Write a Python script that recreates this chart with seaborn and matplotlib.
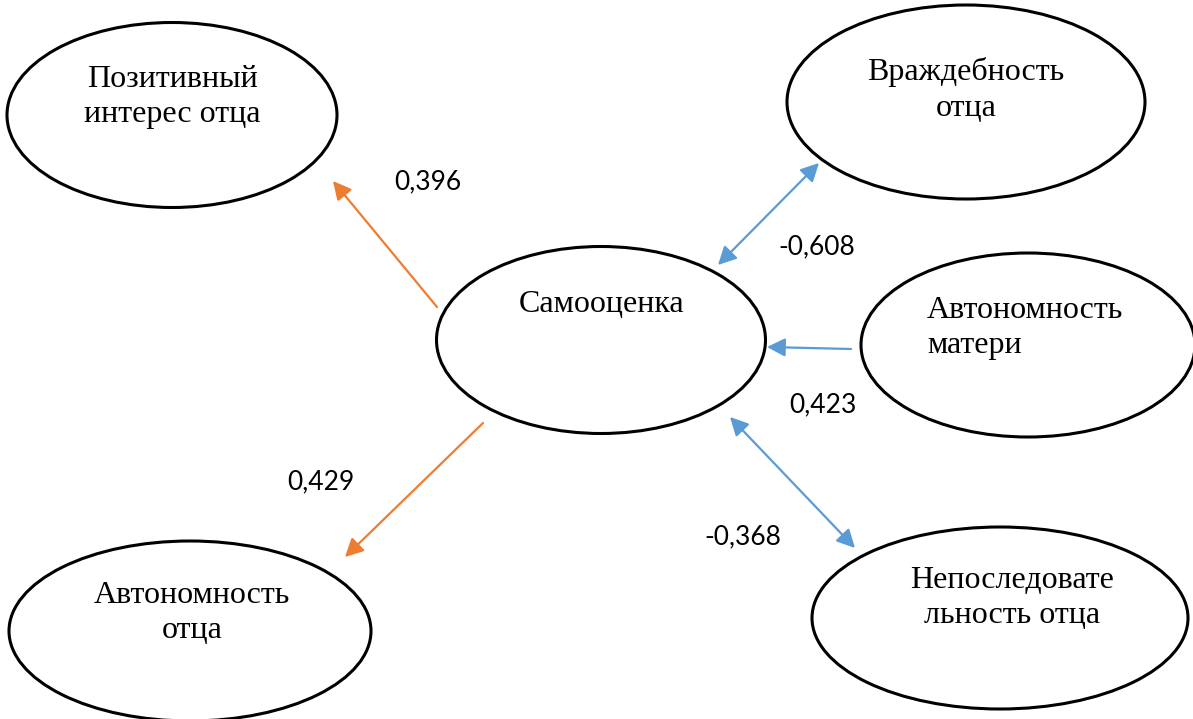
import matplotlib
matplotlib.use("Agg")
import matplotlib.pyplot as plt
from matplotlib.patches import Ellipse
import seaborn as sns

# nodes of the diagram
nodes = ["Позитивный\nинтерес отца", "Враждебность\nотца", "Самооценка",
         "Автономность\nматери", "Автономность\nотца", "Непоследовате\nльность отца"]
# edges: (from, to, coefficient, two-sided?)
edge_src = [2, 2, 3, 2, 2]
edge_dst = [0, 4, 2, 1, 5]
edge_vals = ["0,396", "0,429", "0,423", "-0,608", "-0,368"]
edge_both = [False, False, False, True, True]

sns.set_theme(style="white")
orange, blue = "#ED7D31", "#5B9BD5"

# layout in pixels (x, y, width, height) of each ellipse, text anchor
ell = [(172, 115, 330, 185), (966, 102, 358, 194), (601, 340, 329, 187),
       (1028, 345, 334, 184), (190, 631, 362, 180), (1000, 618, 376, 182)]
txt = [(172, 97, "center"), (966, 90, "center"), (602, 305, "center"),
       (927, 328, "left"), (192, 613, "center"), (1012, 598, "center")]
# arrow endpoints (tail -> head) and label positions
arr = [((437, 307), (333, 181)), ((483, 423), (345, 557)), ((851, 349), (767, 347)),
       ((718, 265), (819, 163)), ((730, 417), (855, 548))]
lab = [(428, 182), (321, 482), (823, 405), (817, 247), (743, 537)]

fig = plt.figure(figsize=(11.93, 7.19), dpi=100)
ax = fig.add_axes([0, 0, 1, 1])
ax.set_xlim(0, 1193)
ax.set_ylim(719, 0)
ax.axis("off")

for name, (cx, cy, w, h), (tx, ty, ha) in zip(nodes, ell, txt):
    ax.add_patch(Ellipse((cx, cy), w, h, fill=False, ec="black", lw=2.2))
    ax.text(tx, ty, name, ha=ha, va="center", family="Liberation Serif",
            fontsize=23, linespacing=1.3, color="black")

for i, (p0, p1) in enumerate(arr):
    col = blue if (edge_both[i] or edge_vals[i] == "0,423") else orange
    style = "<|-|>" if edge_both[i] else "-|>"
    ax.annotate("", xy=p1, xytext=p0,
                arrowprops=dict(arrowstyle=style + ",head_length=0.55,head_width=0.28",
                                color=col, lw=1.6, shrinkA=0, shrinkB=0,
                                mutation_scale=20))
    ax.text(lab[i][0], lab[i][1], edge_vals[i], ha="center", va="center",
            family=["Lato", "DejaVu Sans"], fontsize=19, color="black")

fig.savefig("out.png", dpi=100)
